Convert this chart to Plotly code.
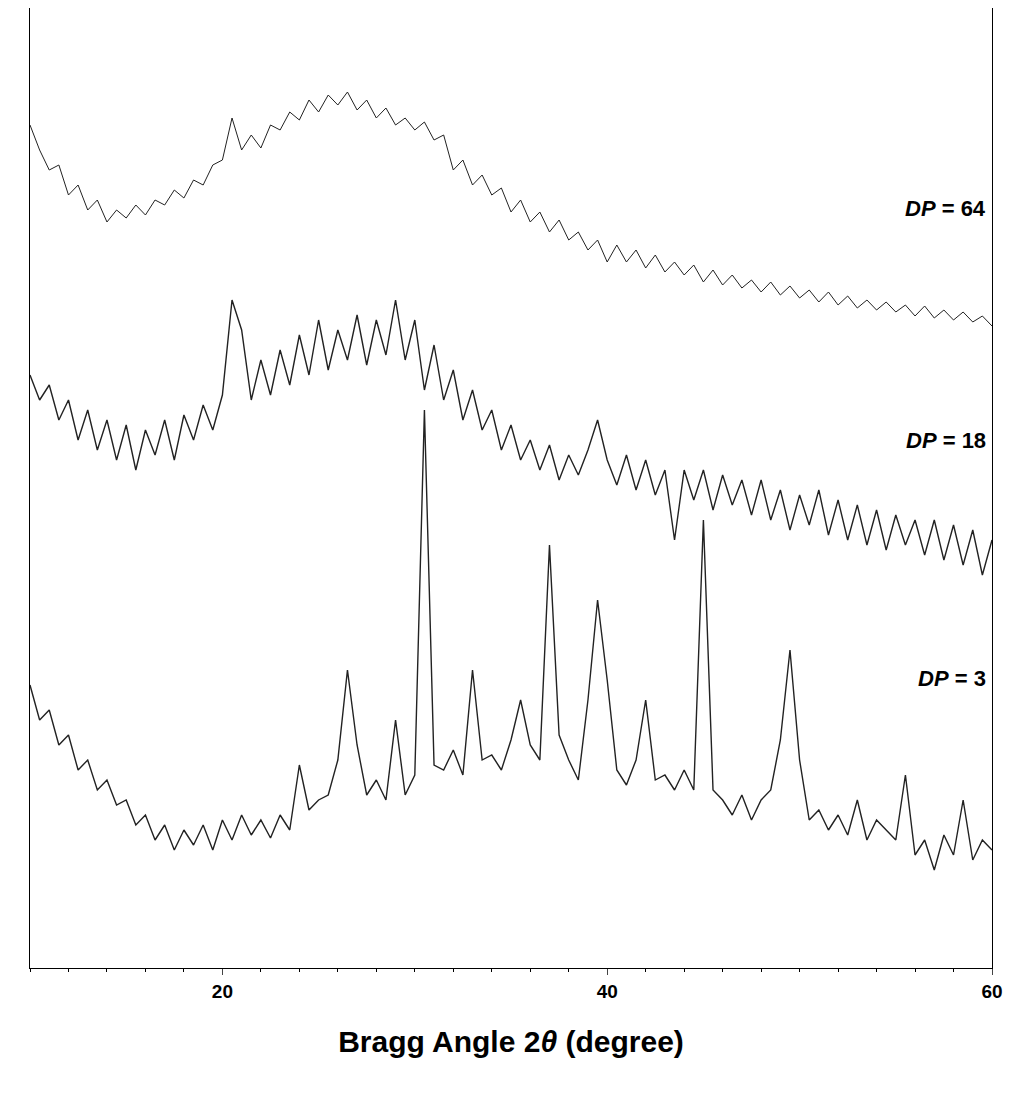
import plotly.graph_objects as go

X = [10 + 0.5 * i for i in range(101)]
# values read as pixel heights from the picture (higher number = lower in plot)
dp64_px = [125,150,170,165,195,185,210,200,222,210,218,205,215,200,205,190,198,180,185,165,
           160,118,150,135,148,125,130,112,120,100,112,95,105,92,110,100,118,108,125,118,
           130,122,140,135,170,160,185,175,195,188,212,200,222,212,232,220,240,232,250,240,
           262,245,262,250,268,255,272,262,275,265,282,270,285,275,288,280,292,282,295,286,
           298,290,302,292,305,296,308,300,310,302,312,305,316,306,318,310,320,312,322,316,326]
dp18_px = [375,400,385,420,400,440,410,450,420,460,425,470,430,455,420,460,415,440,405,430,
           395,300,330,400,360,395,350,385,335,375,320,370,330,360,315,365,320,355,300,360,
           320,390,345,400,370,420,390,430,410,450,425,460,440,470,445,480,455,475,450,420,
           460,485,455,490,460,495,470,540,470,500,470,510,475,505,480,515,480,520,490,530,
           495,525,490,535,500,540,505,545,510,550,515,545,520,555,520,560,525,565,530,575,540]
dp3_px = [685,720,710,745,735,770,760,790,780,805,800,825,815,840,825,850,830,845,825,850,
          820,840,815,835,820,838,815,830,765,810,800,795,760,670,745,795,780,800,720,795,
          775,410,765,770,750,775,670,760,755,770,740,700,745,760,545,735,760,780,700,600,
          680,770,785,760,700,780,775,790,770,790,520,790,800,815,795,820,800,790,740,650,
          760,820,810,830,815,835,800,840,820,830,840,775,855,840,870,835,855,800,860,840,850]
labels = ["<b><i>DP</i> = 64</b>", "<b><i>DP</i> = 18</b>", "<b><i>DP</i> = 3</b>"]
label_px = [208, 440, 678]

fig = go.Figure()
for s, w in zip((dp64_px, dp18_px, dp3_px), (1.0, 1.4, 1.4)):
    fig.add_trace(go.Scatter(x=X[:len(s)], y=[968 - v for v in s], mode="lines",
                             line=dict(color="#222222", width=w), showlegend=False))
for t, p in zip(labels, label_px):
    fig.add_annotation(x=60, y=968 - p, text=t, showarrow=False, xanchor="right", xshift=-4,
                       font=dict(family="Liberation Sans", size=22, color="black"))

fig.update_layout(width=1024, height=1104, margin=dict(l=22, r=40, t=0, b=144),
                  plot_bgcolor="white", paper_bgcolor="white",
                  font=dict(family="Liberation Sans", color="black"))
fig.update_xaxes(range=[10, 60], tickvals=[20, 40, 60], ticktext=["<b>20</b>", "<b>40</b>", "<b>60</b>"],
                 ticks="outside", ticklen=6,
                 showline=True, linecolor="black", mirror=True, showgrid=False, zeroline=False,
                 tickfont=dict(size=19, family="Liberation Sans"),
                 minor=dict(dtick=2, ticks="outside", ticklen=3, tickcolor="black"),
                 title=dict(text="<b>Bragg Angle 2<i>θ</i> (degree)</b>", font=dict(size=30), standoff=30))
fig.update_yaxes(range=[0, 960], showticklabels=False, ticks="", showline=True, linecolor="black",
                 mirror=True, showgrid=False, zeroline=False)
fig.write_html("out.html")
